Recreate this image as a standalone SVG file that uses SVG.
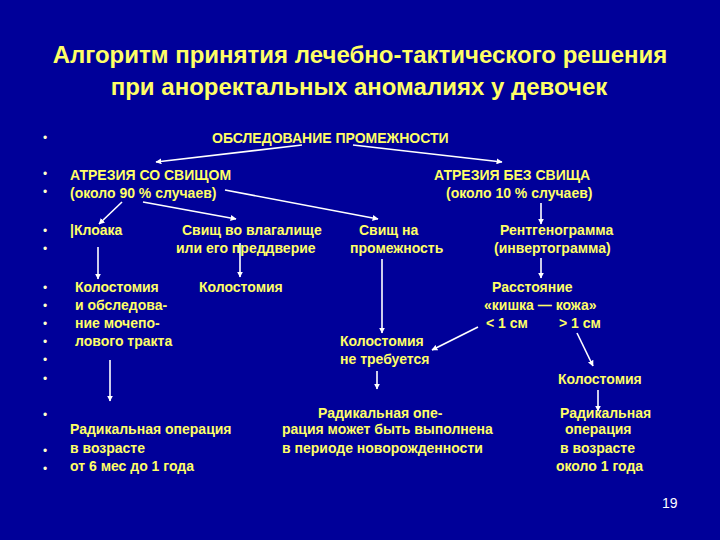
<svg xmlns="http://www.w3.org/2000/svg" width="720" height="540" viewBox="0 0 720 540">
<defs>
<marker id="ah" viewBox="0 0 10 10" refX="9" refY="5" markerWidth="6" markerHeight="6" orient="auto" markerUnits="userSpaceOnUse">
<path d="M0,0 L10,5 L0,10 z" fill="#ffffff"/>
</marker>
<style>
.t{font-family:"Liberation Sans",Arial,sans-serif;font-weight:bold;font-size:14px;fill:#ffff66}
.ttl{font-family:"Liberation Sans",Arial,sans-serif;font-weight:bold;font-size:24px;fill:#ffff66;text-anchor:middle}
.b{font-family:"Liberation Sans",Arial,sans-serif;font-size:12px;fill:#ffffcc}
.c line{stroke:#ffffff;stroke-width:1.6;marker-end:url(#ah)}
.pg{font-family:"Liberation Sans",Arial,sans-serif;font-size:14px;fill:#ffffff}
</style>
</defs>
<rect width="720" height="540" fill="#000099"/>
<g id="title">
<text class="ttl" x="360" y="63">Алгоритм принятия лечебно-тактического решения</text>
<text class="ttl" x="359" y="95">при аноректальных аномалиях у девочек</text>
</g>
<g id="bullets">
<text class="b" x="43" y="142">•</text>
<text class="b" x="43" y="178">•</text>
<text class="b" x="43" y="196">•</text>
<text class="b" x="43" y="235">•</text>
<text class="b" x="43" y="253">•</text>
<text class="b" x="43" y="292">•</text>
<text class="b" x="43" y="310">•</text>
<text class="b" x="43" y="328">•</text>
<text class="b" x="43" y="346">•</text>
<text class="b" x="43" y="364">•</text>
<text class="b" x="43" y="383">•</text>
<text class="b" x="43" y="419">•</text>
<text class="b" x="43" y="455">•</text>
<text class="b" x="43" y="473">•</text>
</g>
<g id="n-exam"><text class="t" x="212" y="143">ОБСЛЕДОВАНИЕ ПРОМЕЖНОСТИ</text></g>
<g id="n-fistula">
<text class="t" x="70" y="180">АТРЕЗИЯ СО СВИЩОМ</text>
<text class="t" x="70" y="198">(около 90 % случаев)</text>
</g>
<g id="n-nofistula">
<text class="t" x="434" y="180">АТРЕЗИЯ БЕЗ СВИЩА</text>
<text class="t" x="446" y="198">(около 10 % случаев)</text>
</g>
<g id="n-cloaca"><text class="t" x="70" y="235">|Клоака</text></g>
<g id="n-vagina">
<text class="t" x="182" y="235">Свищ во влагалище</text>
<text class="t" x="176" y="253">или его преддверие</text>
</g>
<g id="n-perineum">
<text class="t" x="359" y="235">Свищ на</text>
<text class="t" x="350" y="253">промежность</text>
</g>
<g id="n-xray">
<text class="t" x="500" y="235">Рентгенограмма</text>
<text class="t" x="494" y="253">(инвертограмма)</text>
</g>
<g id="n-colo1">
<text class="t" x="75" y="292">Колостомия</text>
<text class="t" x="75" y="310">и обследова-</text>
<text class="t" x="75" y="328">ние мочепо-</text>
<text class="t" x="75" y="346">лового тракта</text>
</g>
<g id="n-colo2"><text class="t" x="199" y="292">Колостомия</text></g>
<g id="n-distance">
<text class="t" x="492" y="292">Расстояние</text>
<text class="t" x="484" y="310">«кишка — кожа»</text>
<text class="t" x="486" y="328">&lt; 1 см</text>
<text class="t" x="559" y="328">&gt; 1 см</text>
</g>
<g id="n-nocolo">
<text class="t" x="340" y="346">Колостомия</text>
<text class="t" x="340" y="364">не требуется</text>
</g>
<g id="n-colo3"><text class="t" x="558" y="384">Колостомия</text></g>
<g id="n-op1">
<text class="t" x="70" y="434">Радикальная операция</text>
<text class="t" x="70" y="453">в возрасте</text>
<text class="t" x="70" y="471">от 6 мес до 1 года</text>
</g>
<g id="n-op2">
<text class="t" x="318" y="418">Радикальная опе-</text>
<text class="t" x="282" y="434">рация может быть выполнена</text>
<text class="t" x="282" y="453">в периоде новорожденности</text>
</g>
<g id="n-op3">
<text class="t" x="560" y="418">Радикальная</text>
<text class="t" x="565" y="434">операция</text>
<text class="t" x="560" y="453">в возрасте</text>
<text class="t" x="556" y="471">около 1 года</text>
</g>
<g id="connectors" class="c">
<line x1="302" y1="145" x2="156" y2="162"/>
<line x1="353" y1="145" x2="502" y2="162"/>
<line x1="122" y1="202" x2="99" y2="224"/>
<line x1="143" y1="202" x2="236" y2="219"/>
<line x1="225" y1="190" x2="378" y2="219"/>
<line x1="541" y1="203" x2="541" y2="224"/>
<line x1="98" y1="247" x2="98" y2="279"/>
<line x1="240" y1="243" x2="240" y2="277"/>
<line x1="382" y1="259" x2="382" y2="333"/>
<line x1="541" y1="258" x2="541" y2="278"/>
<line x1="478" y1="327" x2="432" y2="350"/>
<line x1="577" y1="333" x2="593" y2="366"/>
<line x1="377" y1="371" x2="377" y2="389"/>
<line x1="110" y1="360" x2="110" y2="401"/>
<line x1="598" y1="390" x2="598" y2="411"/>
</g>
<g id="page"><text class="pg" x="662" y="508">19</text></g>
</svg>
